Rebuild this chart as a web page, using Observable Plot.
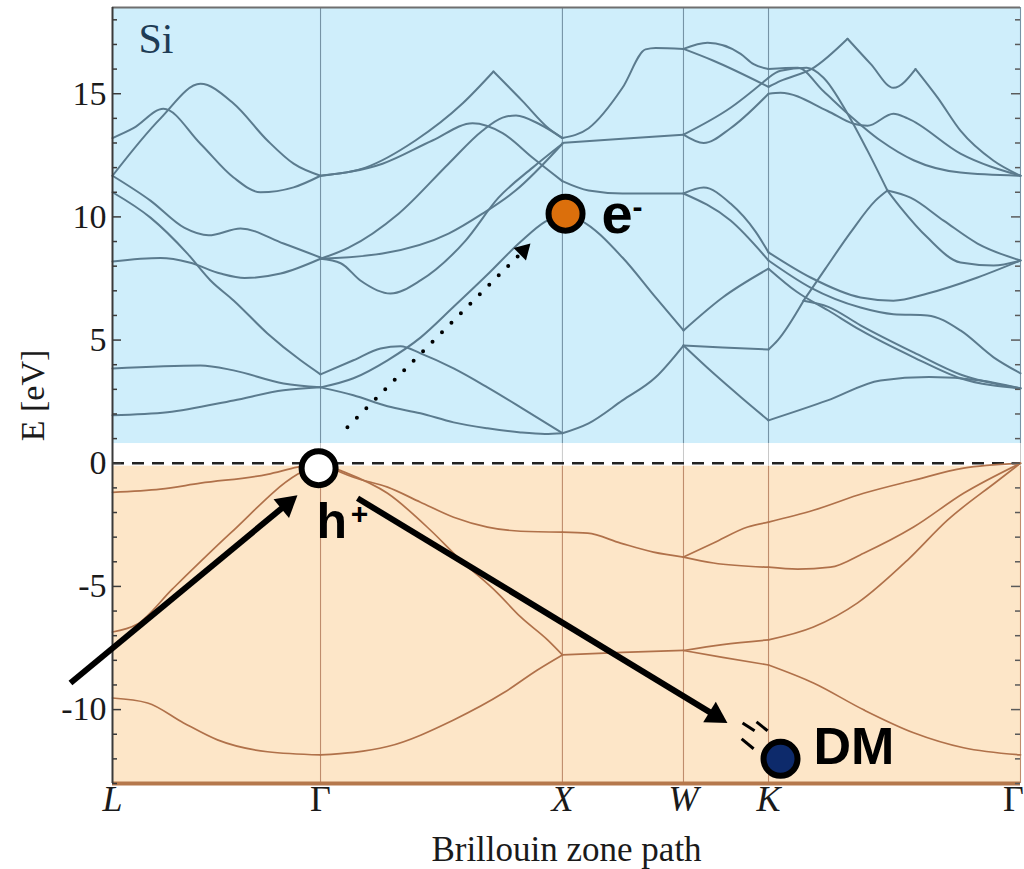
<!DOCTYPE html>
<html><head><meta charset="utf-8">
<script src="https://cdn.jsdelivr.net/npm/d3@7"></script>
<script src="https://cdn.jsdelivr.net/npm/@observablehq/plot@0.6"></script>
<style>
html,body{margin:0;padding:0;background:#fff;overflow:hidden;}
#chart svg{display:block;max-width:none;}
</style>
</head><body><div id="chart"></div>
<script>
// ---------------- data ----------------
const kTickPos    = [0, 0.866, 1.873, 2.377, 2.731, 3.78];
const kTickLabels = ["L", "Γ", "X", "W", "K", "Γ"];
const kTickItalic = [true, false, true, true, true, false];
const symK = [0.866, 1.873, 2.377, 2.731, 3.78];
const yTicks = [-10, -5, 0, 5, 10, 15];
const minorTicks = d3.range(-13, 19);
const kDomain = [0, 3.78];
const eDomain = [-13, 18.5];
const conductionFloor = 0.8;
const valenceTop = -0.12;

// valence bands: [k, E] pairs
const valenceBands = [
  [[0,-9.53],[0.146,-9.73],[0.296,-10.54],[0.437,-11.23],[0.645,-11.71],[0.866,-11.84]],
  [[0.866,-11.84],[1.145,-11.5],[1.42,-10.42],[1.628,-9.32],[1.769,-8.39],[1.873,-7.78]],
  [[1.873,-7.78],[2.123,-7.68],[2.377,-7.6]],
  [[2.377,-7.6],[2.54,-7.88],[2.731,-8.19]],
  [[2.377,-7.6],[2.54,-7.36],[2.731,-7.17]],
  [[2.731,-8.19],[2.918,-8.92],[3.127,-10.01],[3.335,-10.94],[3.543,-11.55],[3.78,-11.84]],
  [[0,-6.85],[0.1,-6.55],[0.25,-5.1],[0.491,-2.84],[0.77,-0.45],[0.866,0]],
  [[0.866,0],[0.95,-0.3],[1.145,-1.22],[1.324,-2.72],[1.449,-3.93],[1.603,-5.27],[1.699,-6.24],[1.811,-7.17],[1.873,-7.78]],
  [[2.731,-7.17],[2.918,-6.65],[3.102,-5.67],[3.31,-3.93],[3.476,-2.31],[3.68,-0.75],[3.78,0]],
  [[0,-1.18],[0.2,-1.05],[0.366,-0.81],[0.645,-0.45],[0.77,-0.16],[0.866,0]],
  [[0.866,0],[1.003,-0.57],[1.145,-0.97],[1.282,-1.58],[1.42,-2.19],[1.561,-2.59],[1.699,-2.76],[1.873,-2.8]],
  [[1.873,-2.8],[1.978,-2.84],[2.115,-3.24],[2.252,-3.61],[2.377,-3.81]],
  [[2.377,-3.81],[2.502,-3.24],[2.644,-2.59],[2.731,-2.39]],
  [[2.377,-3.81],[2.502,-4.05],[2.731,-4.22]],
  [[2.731,-2.39],[2.918,-1.91],[3.127,-1.22],[3.335,-0.69],[3.543,-0.2],[3.78,0]],
  [[2.731,-4.22],[2.852,-4.3],[2.989,-4.22],[3.127,-3.65],[3.335,-2.59],[3.543,-1.22],[3.78,0]]
];

// conduction bands: [k, E] pairs
const conductionBands = [
  // L - Gamma
  [[0,13.2],[0.087,13.6],[0.212,14.39],[0.366,12.97],[0.504,11.6],[0.616,11.0],[0.754,11.2],[0.866,11.67]],
  [[0,11.67],[0.2,14.0],[0.366,15.4],[0.504,14.6],[0.645,13.1],[0.754,12.16],[0.866,11.67]],
  [[0,11.67],[0.158,10.66],[0.3,9.55],[0.4,9.25],[0.533,9.53],[0.712,8.92],[0.866,8.35]],
  [[0,11.0],[0.158,9.97],[0.312,8.51],[0.408,7.42],[0.504,6.61],[0.645,5.27],[0.783,4.18],[0.866,3.61]],
  [[0,8.19],[0.2,8.33],[0.32,8.15],[0.45,7.7],[0.55,7.52],[0.7,7.7],[0.866,8.3]],
  [[0,3.85],[0.366,3.97],[0.504,3.77],[0.712,3.24],[0.866,3.08]],
  [[0,1.95],[0.229,2.07],[0.504,2.55],[0.712,2.96],[0.866,3.08]],
  // Gamma - X
  [[0.866,11.67],[1.053,12.0],[1.261,13.1],[1.457,14.6],[1.586,15.9]],
  [[1.586,15.9],[1.707,14.7],[1.815,13.6],[1.873,13.2]],
  [[0.866,11.67],[1.124,12.16],[1.332,13.1],[1.499,13.8],[1.624,13.4],[1.749,12.4],[1.873,11.45]],
  [[0.866,8.3],[0.983,8.75],[1.191,10.13],[1.399,12.16],[1.54,13.5],[1.624,14.03],[1.68,14.12],[1.78,13.75],[1.873,13.2]],
  [[0.866,8.3],[1.124,8.51],[1.399,9.32],[1.54,10.13],[1.678,11.07],[1.873,12.97]],
  [[0.866,8.3],[0.95,8.12],[1.032,7.42],[1.157,6.89],[1.282,7.42],[1.47,9.04],[1.607,10.78],[1.749,12.0],[1.873,12.97]],
  [[0.866,3.08],[1.003,3.45],[1.145,4.18],[1.282,5.1],[1.42,6.35],[1.56,7.65],[1.7,9.0],[1.8,9.8],[1.873,10.1]],
  [[0.866,3.61],[1.003,4.18],[1.116,4.66],[1.199,4.75],[1.282,4.46],[1.42,3.85],[1.561,3.08],[1.699,2.27],[1.873,1.22]],
  [[0.866,3.08],[1.003,2.76],[1.145,2.31],[1.282,2.03],[1.42,1.66],[1.561,1.42],[1.699,1.25],[1.8,1.19],[1.873,1.22]],
  // X - W
  [[1.873,13.2],[1.982,13.6],[2.123,15.24],[2.219,16.8],[2.261,16.86],[2.377,16.82]],
  [[1.873,13.0],[2.123,13.17],[2.377,13.34]],
  [[1.873,11.45],[1.982,11.07],[2.123,10.95],[2.377,10.95]],
  [[1.873,10.1],[1.95,9.85],[2.123,8.35],[2.261,6.73],[2.377,5.39]],
  [[1.873,1.22],[1.982,1.62],[2.123,2.55],[2.261,3.49],[2.377,4.78]],
  // W - K
  [[2.377,16.82],[2.477,17.07],[2.615,16.62],[2.669,16.2],[2.731,16.0]],
  [[2.377,16.82],[2.502,16.34],[2.731,15.28]],
  [[2.377,13.34],[2.573,14.43],[2.731,15.65]],
  [[2.377,13.34],[2.461,13.0],[2.573,13.6],[2.731,15.0]],
  [[2.377,10.95],[2.461,11.19],[2.573,10.54],[2.677,9.4],[2.731,8.56]],
  [[2.377,10.95],[2.573,9.85],[2.731,8.23]],
  [[2.377,5.39],[2.54,6.73],[2.731,7.9]],
  [[2.377,4.78],[2.54,4.7],[2.731,4.62]],
  [[2.377,4.78],[2.502,3.65],[2.62,2.65],[2.731,1.74]],
  // K - Gamma
  [[2.731,1.74],[2.977,2.55],[3.197,3.36],[3.4,3.5],[3.614,3.36],[3.78,3.04]],
  [[2.731,4.62],[2.769,4.99],[2.877,6.6]],
  [[2.877,6.6],[2.968,7.9],[3.072,9.36],[3.176,10.66],[3.226,11.07]],
  [[3.226,11.07],[3.322,10.78],[3.46,9.85],[3.601,8.92],[3.78,8.23]],
  [[2.877,6.6],[2.98,6.35],[3.114,5.6],[3.335,4.5],[3.53,3.6],[3.78,3.04]],
  [[2.731,7.9],[2.85,6.95],[2.98,6.2],[3.114,5.4],[3.335,4.3],[3.53,3.45],[3.78,3.04]],
  [[2.731,8.23],[2.906,7.13],[3.114,6.32],[3.251,6.05],[3.393,6.0],[3.53,5.39],[3.668,4.3],[3.78,3.65]],
  [[2.731,8.56],[2.906,7.54],[3.114,6.73],[3.251,6.6],[3.393,6.89],[3.601,7.54],[3.78,8.23]],
  [[2.731,15.28],[2.781,15.52],[2.918,16.05],[3.06,17.23]],
  [[3.06,17.23],[3.156,16.21],[3.251,15.24],[3.343,16.0]],
  [[3.343,16.0],[3.435,14.84],[3.53,13.5],[3.668,12.28],[3.78,11.67]],
  [[2.731,15.65],[2.781,15.93],[2.89,16.05],[2.96,15.65],[3.06,14.19],[3.143,12.69],[3.226,11.07]],
  [[3.226,11.07],[3.281,10.38],[3.393,9.16],[3.53,8.15],[3.668,8.03],[3.78,8.23]],
  [[2.731,16.0],[2.852,16.05],[2.96,15.1],[3.06,14.2],[3.197,13.1],[3.335,12.3],[3.53,11.8],[3.78,11.67]],
  [[2.731,15.0],[2.781,15.04],[2.977,14.3],[3.085,13.78],[3.143,13.7],[3.251,14.19],[3.31,14.0],[3.53,12.57],[3.78,11.67]]
];

// annotations (k, E)
const particles = [
  {name: "hole", k: 0.858, E: -0.2, fill: "#ffffff"},
  {name: "electron", k: 1.886, E: 10.13, fill: "#db6f0c"},
  {name: "dm", k: 2.781, E: -12.0, fill: "#0d2a6b"}
];
const solidArrows = [
  {k1: -0.175, E1: -8.92, k2: 0.770, E2: -1.30},
  {k1: 1.020, E1: -1.42, k2: 2.560, E2: -10.54}
];
const dottedArrows = [
  {k1: 0.978, E1: 1.46, k2: 1.740, E2: 8.92}
];
const motionMarks = [
  {k1: 2.623, E1: -10.54, k2: 2.673, E2: -10.86},
  {k1: 2.681, E1: -10.50, k2: 2.727, E2: -10.86},
  {k1: 2.619, E1: -11.19, k2: 2.669, E2: -11.59}
];
const bigLabels = [
  {text: "e", k: 2.036, E: 10.09, size: 56},
  {text: "h", k: 0.849, E: -2.39, size: 50},
  {text: "DM", k: 2.918, E: -11.55, size: 52}
];
const supLabels = [
  {text: "-", k: 2.186, E: 10.38, size: 30},
  {text: "+", k: 1.028, E: -2.07, size: 30}
];

// ---------------- layout ----------------
const W = 1024, H = 869, mL = 112, mR = 4, mT = 7, mB = 86;
const serif = "'Liberation Serif', 'Times New Roman', Times, serif";
const sans = "'Liberation Sans', Arial, Helvetica, sans-serif";
const bgBlue = "#cfeefb", bgOrange = "#fde6c8";
const cbStroke = "#5b7b8e", vbStroke = "#b0714a";
const solidHeadR = 9, dottedHeadR = 6.5;

const xScale = Plot.scale({x: {domain: kDomain, range: [mL, W - mR]}});
const yScale = Plot.scale({y: {domain: eDomain, range: [H - mB, mT]}});

function headOf(a, r) {
  const x1 = xScale.apply(a.k1), y1 = yScale.apply(a.E1);
  const x2 = xScale.apply(a.k2), y2 = yScale.apply(a.E2);
  const ang = Math.atan2(y2 - y1, x2 - x1);
  const tipDist = 2 * Math.sqrt(Math.PI * r * r / (3 * Math.sqrt(3)));
  const cx = x2 - Math.cos(ang) * tipDist, cy = y2 - Math.sin(ang) * tipDist;
  return {k: xScale.invert(cx), E: yScale.invert(cy), rotate: ang * 180 / Math.PI + 90,
          k1: a.k1, E1: a.E1};
}
const solidHeads = solidArrows.map(a => headOf(a, solidHeadR));
const dottedHeads = dottedArrows.map(a => headOf(a, dottedHeadR));

const toRows = bands => bands.flatMap((pts, i) => pts.map(([k, E]) => ({band: i, k, E})));
const tickRows = kTickPos.map((k, i) => ({k, label: kTickLabels[i], italic: kTickItalic[i], last: i === kTickPos.length - 1}));
const tickText = {y: eDomain[0], dy: 16, x: "k", text: "label", fontSize: 36, fontFamily: serif, fill: "#1a1a1a", lineAnchor: "middle"};

const plot = Plot.plot({
  width: W, height: H,
  marginLeft: mL, marginRight: mR, marginTop: mT, marginBottom: mB,
  x: {domain: kDomain, axis: null},
  y: {domain: eDomain},
  style: {background: "#fff", overflow: "visible"},
  marks: [
    Plot.rect([{x1: kDomain[0], x2: kDomain[1], y1: conductionFloor, y2: eDomain[1]}],
      {x1: "x1", x2: "x2", y1: "y1", y2: "y2", fill: bgBlue}),
    Plot.rect([{x1: kDomain[0], x2: kDomain[1], y1: eDomain[0], y2: valenceTop}],
      {x1: "x1", x2: "x2", y1: "y1", y2: "y2", fill: bgOrange}),
    Plot.ruleX(symK, {y1: conductionFloor, y2: eDomain[1], stroke: "#7693a5", strokeWidth: 1.1}),
    Plot.ruleX(symK, {y1: valenceTop, y2: conductionFloor, stroke: "#c8c8c8", strokeWidth: 1}),
    Plot.ruleX(symK, {y1: eDomain[0], y2: valenceTop, stroke: "#bf8c6c", strokeWidth: 1.1}),
    Plot.ruleY([0], {stroke: "#222", strokeWidth: 2.4, strokeDasharray: "12,8"}),
    Plot.line(toRows(valenceBands), {x: "k", y: "E", z: "band", stroke: vbStroke, strokeWidth: 1.7, curve: "monotone-x"}),
    Plot.line(toRows(conductionBands), {x: "k", y: "E", z: "band", stroke: cbStroke, strokeWidth: 2, curve: "monotone-x"}),
    // frame
    Plot.ruleY([eDomain[1]], {stroke: "#6f6f6f", strokeWidth: 2}),
    Plot.ruleY([eDomain[0]], {stroke: "#b5784c", strokeWidth: 4}),
    Plot.ruleX([kDomain[0]], {stroke: "#3a3a3a", strokeWidth: 2}),
    // inward ticks
    Plot.ruleY(minorTicks, {y: d => d, x1: 0, x2: d => (d % 5 === 0 ? 9 : 5) / 240.2, stroke: "#3a3a3a", strokeWidth: 1.5}),
    Plot.ruleY(minorTicks, {y: d => d, x1: 3.78, x2: d => 3.78 - (d % 5 === 0 ? 9 : 5) / 240.2, stroke: "#5a5a5a", strokeWidth: 1.5}),
    Plot.axisY({ticks: yTicks, tickSize: 0, tickPadding: 6, tickFormat: d => String(d),
      fontSize: 34, fontFamily: serif, color: "#1a1a1a", label: null}),
    Plot.text(["E [eV]"], {x: -0.33, y: (eDomain[0] + eDomain[1]) / 2, rotate: -90,
      fontSize: 34, fontFamily: serif, fill: "#1a1a1a", lineAnchor: "middle"}),
    Plot.text(tickRows.filter(d => d.italic), {...tickText, fontStyle: "italic"}),
    Plot.text(tickRows.filter(d => !d.italic && !d.last), tickText),
    Plot.text(tickRows.filter(d => d.last), {...tickText, dx: -7}),
    Plot.text(["Brillouin zone path"], {frameAnchor: "bottom", dy: 66, fontSize: 35, fontFamily: serif, fill: "#1a1a1a", lineAnchor: "middle"}),
    Plot.text(["Si"], {x: 0.108, y: 17.2, textAnchor: "start", fontSize: 42, fontFamily: serif, fill: "#1e3c55", lineAnchor: "middle"}),
    // arrows
    Plot.link(solidHeads, {x1: "k1", y1: "E1", x2: "k", y2: "E", stroke: "#000", strokeWidth: 6}),
    Plot.dot(solidHeads, {x: "k", y: "E", r: solidHeadR, rotate: "rotate", symbol: "triangle", fill: "#000", stroke: "none"}),
    Plot.link(dottedHeads, {x1: "k1", y1: "E1", x2: "k", y2: "E", stroke: "#000", strokeWidth: 4, strokeDasharray: "0,13.4", strokeLinecap: "round"}),
    Plot.dot(dottedHeads, {x: "k", y: "E", r: dottedHeadR, rotate: "rotate", symbol: "triangle", fill: "#000", stroke: "none"}),
    Plot.link(motionMarks, {x1: "k1", y1: "E1", x2: "k2", y2: "E2", stroke: "#000", strokeWidth: 3}),
    // particles
    Plot.dot(particles, {x: "k", y: "E", r: 17, fill: "fill", stroke: "#000", strokeWidth: 6}),
    Plot.text(bigLabels, {x: "k", y: "E", text: "text", fontSize: d => d.size, textAnchor: "start", fontFamily: sans, fontWeight: "bold", fill: "#000", lineAnchor: "middle"}),
    Plot.text(supLabels, {x: "k", y: "E", text: "text", fontSize: d => d.size, textAnchor: "middle", fontFamily: sans, fontWeight: "bold", fill: "#000", lineAnchor: "middle"})
  ]
});
document.getElementById("chart").append(plot);
</script></body></html>
